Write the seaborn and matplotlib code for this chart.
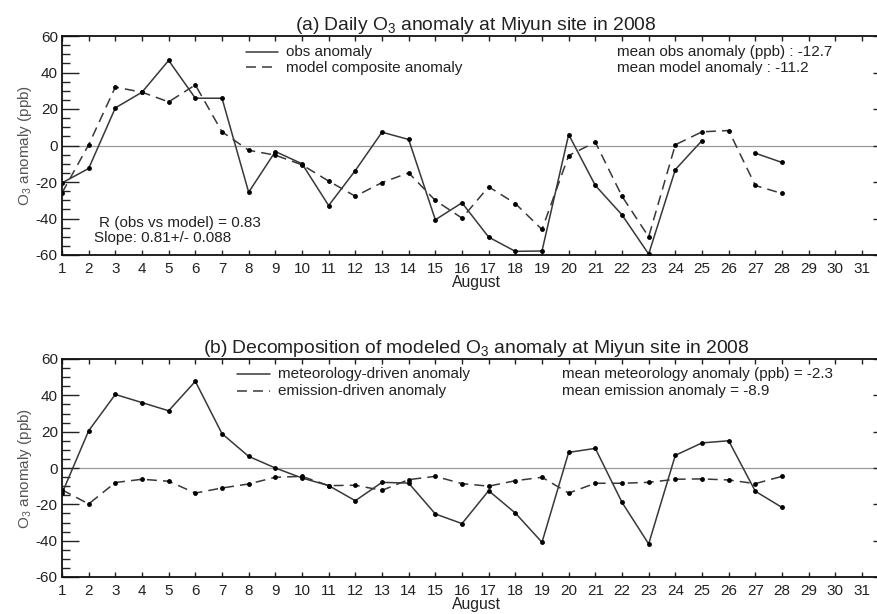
import numpy as np
import pandas as pd
import matplotlib
matplotlib.use("Agg")
import matplotlib.pyplot as plt
import seaborn as sns
from matplotlib.ticker import MultipleLocator

# ---------------- data ----------------
days = list(range(1, 29))
obs_anom = [-20.5, -12.6, 20.6, 29.2, 46.6, 25.9, 25.9, -25.6, -3.3, -10.0,
            -32.9, -13.7, 7.3, 3.3, -40.7, -31.4, -50.2, -58.0, -57.8, 6.0,
            -21.9, -38.0, -59.5, -13.2, 2.7, np.nan, -4.2, -9.3]
model_anom = [-26.0, 0.4, 32.0, 29.2, 23.9, 33.2, 7.5, -2.6, -5.3, -10.6,
              -19.5, -27.8, -20.3, -15.0, -30.1, -39.8, -22.6, -31.8, -46.0, -5.5,
              1.8, -27.8, -50.0, 0.4, 7.5, 8.2, -21.9, -26.3]
met_anom = [-14.0, 20.5, 40.5, 36.0, 31.5, 47.7, 18.9, 6.4, 0.0, -5.5,
            -9.7, -18.0, -7.9, -8.3, -25.3, -30.6, -12.5, -24.8, -40.9, 8.6,
            10.8, -18.9, -41.8, 7.0, 13.8, 15.0, -12.8, -21.7]
emis_anom = [-12.0, -19.8, -8.0, -6.2, -7.3, -13.8, -11.0, -8.8, -5.1, -4.6,
             -9.7, -9.5, -12.3, -6.4, -4.6, -8.6, -10.0, -7.0, -5.1, -13.8,
             -8.4, -8.4, -7.9, -6.2, -6.0, -6.6, -8.6, -4.6]
xtick_days = list(range(1, 32))
yticks = [-60, -40, -20, 0, 20, 40, 60]

# ---------------- style ----------------
sns.set_theme(style="ticks")
plt.rcParams['font.family'] = ['Liberation Sans', 'DejaVu Sans']
plt.rcParams['mathtext.fontset'] = 'custom'
plt.rcParams['mathtext.rm'] = 'Liberation Sans'
plt.rcParams['mathtext.it'] = 'Liberation Sans:italic'
plt.rcParams['mathtext.bf'] = 'Liberation Sans:bold'

TXT = '#222222'
LINE = '#383838'
DASH = (0, (6.5, 4))

fig = plt.figure(figsize=(8.77, 6.14), dpi=100)
ax_a = fig.add_axes([62/877, 1 - 255/614, (890 - 62)/877, 219/614])
ax_b = fig.add_axes([62/877, 1 - 577/614, (890 - 62)/877, 218/614])


def style_axes(ax):
    ax.set_xlim(1, 32.05)
    ax.set_ylim(-60, 60)
    ax.set_xticks(xtick_days)
    ax.set_xticklabels([str(d) for d in xtick_days])
    ax.set_yticks(yticks)
    ax.set_yticklabels([str(v) for v in yticks])
    ax.yaxis.set_minor_locator(MultipleLocator(5))
    ax.tick_params(axis='y', which='major', direction='in', length=12.5, width=1.0,
                   left=True, right=True, labelsize=11, colors=TXT, pad=3)
    ax.tick_params(axis='y', which='minor', direction='in', length=6, width=1.0,
                   left=True, right=True)
    ax.tick_params(axis='x', which='major', direction='in', length=3.5, width=1.0,
                   top=True, bottom=True, labelsize=11, colors=TXT, pad=5)
    for s in ax.spines.values():
        s.set_visible(True)
        s.set_color('#111111')
        s.set_linewidth(1.3)
    ax.axhline(0, color='#9a9a9a', lw=0.9, zorder=0)
    ax.set_xlabel('August', fontsize=11.3, color=TXT, labelpad=-1)
    ax.set_ylabel(r'O$_3$ anomaly (ppb)', fontsize=11, color='#555555', labelpad=1)


def leg_line(ax, x0, x1, y, ls):
    ax.plot([x0, x1], [y, y], color=LINE, lw=1.1, linestyle=ls, clip_on=False)


# ---------------- panel (a) ----------------
df_a = pd.DataFrame({'day': days, 'obs': obs_anom, 'model': model_anom})
df_a['seg'] = (df_a['obs'].isna()).cumsum()
df_obs = df_a.dropna(subset=['obs'])
sns.lineplot(data=df_obs, x='day', y='obs', units='seg', estimator=None, ax=ax_a,
             color=LINE, lw=1.1, marker='o', markersize=3.5, markeredgewidth=0,
             markerfacecolor='black', legend=False)
sns.lineplot(data=df_a, x='day', y='model', ax=ax_a, color=LINE, lw=1.1,
             linestyle=DASH, marker='o', markersize=3.5, markeredgewidth=0,
             markerfacecolor='black', legend=False)
style_axes(ax_a)
ax_a.set_title(r'(a) Daily O$_3$ anomaly at Miyun site in 2008', fontsize=13.9,
               color=TXT, pad=4)

leg_line(ax_a, 7.9, 9.1, 51.5, '-')
leg_line(ax_a, 7.9, 9.1, 43.0, DASH)
ax_a.text(9.39, 51.0, 'obs anomaly', fontsize=11, color=TXT, va='center')
ax_a.text(9.39, 42.5, 'model composite anomaly', fontsize=11, color=TXT, va='center')
ax_a.text(21.8, 51.0, 'mean obs anomaly (ppb) : -12.7', fontsize=11, color=TXT, va='center')
ax_a.text(21.8, 42.5, 'mean model anomaly : -11.2', fontsize=11, color=TXT, va='center')
ax_a.text(2.4, -42.5, 'R (obs vs model) = 0.83', fontsize=11, color=TXT, va='center')
ax_a.text(2.2, -50.8, 'Slope: 0.81+/- 0.088', fontsize=11, color=TXT, va='center')

# ---------------- panel (b) ----------------
df_b = pd.DataFrame({'day': days, 'met': met_anom, 'emis': emis_anom})
sns.lineplot(data=df_b, x='day', y='met', ax=ax_b, color=LINE, lw=1.1,
             marker='o', markersize=3.5, markeredgewidth=0, markerfacecolor='black',
             legend=False)
sns.lineplot(data=df_b, x='day', y='emis', ax=ax_b, color=LINE, lw=1.1,
             linestyle=DASH, marker='o', markersize=3.5, markeredgewidth=0,
             markerfacecolor='black', legend=False)
style_axes(ax_b)
ax_b.set_title(r'(b) Decomposition of modeled O$_3$ anomaly at Miyun site in 2008',
               fontsize=13.9, color=TXT, pad=4)

leg_line(ax_b, 7.55, 8.8, 51.5, '-')
leg_line(ax_b, 7.55, 8.8, 42.5, DASH)
ax_b.text(9.09, 51.5, 'meteorology-driven anomaly', fontsize=11, color=TXT, va='center')
ax_b.text(9.09, 42.5, 'emission-driven anomaly', fontsize=11, color=TXT, va='center')
ax_b.text(19.76, 51.5, 'mean meteorology anomaly (ppb) = -2.3', fontsize=11, color=TXT, va='center')
ax_b.text(19.76, 42.5, 'mean emission anomaly = -8.9', fontsize=11, color=TXT, va='center')

fig.savefig('out.png', dpi=100)
